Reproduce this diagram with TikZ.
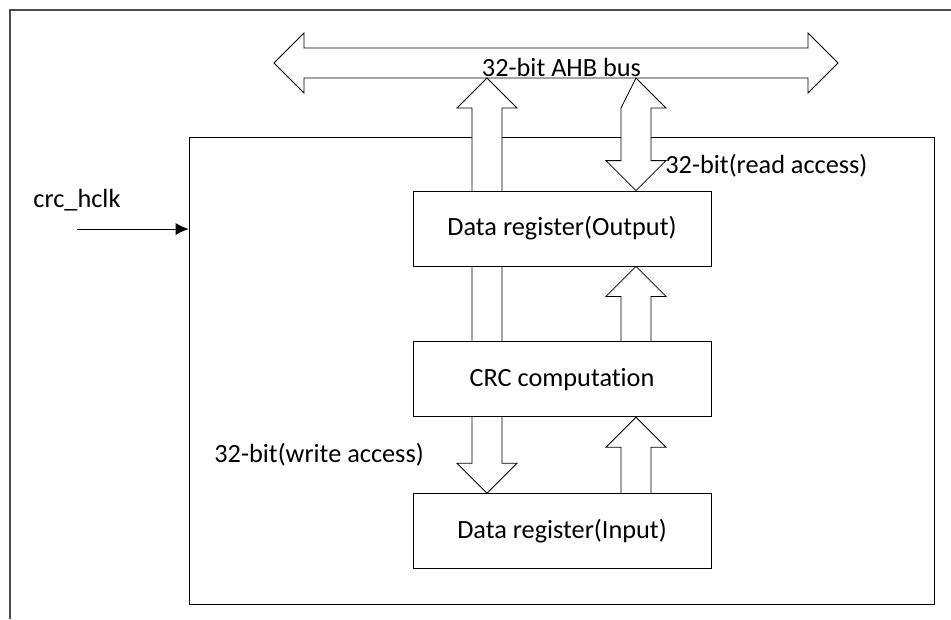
\documentclass[tikz,border=0pt]{standalone}
\usepackage{fontspec}
\setmainfont[Ligatures={NoCommon}]{Carlito}
\usetikzlibrary{positioning,calc,arrows.meta}

\begin{document}
\begin{tikzpicture}[x=1pt,y=-1pt,line width=0.8pt,
    every node/.style={font=\fontsize{26.3}{30}\selectfont},
    caja/.style={draw,fill=white,minimum width=298pt,minimum height=75pt,inner sep=0pt},
    hueca/.style={draw,fill=white,line join=miter}]
        \useasboundingbox (0,0) rectangle (951,619);
        %Marco exterior (cortado a la derecha y abajo)
        \draw[black!70,line width=1.2pt] (10,619) -- (10,10) -- (951,10);

        %Bloque principal
        \node[draw,minimum width=745pt,minimum height=467pt,inner sep=0pt] (interno) at (561.5,370.5) {};

        %Bus AHB: puntas y borde inferior del cuerpo
        \coordinate (busI) at (274,63);
        \coordinate (busD) at (838,63);
        \coordinate (bus) at (556,78);
        \draw[hueca] (busI) -- ++(30,-30) -- ++(0,15) -- ($(busD)+(-30,-15)$) -- ++(0,-15)
            -- (busD) -- ++(-30,30) -- ++(0,-15) -- ($(busI)+(30,15)$) -- ++(0,15) -- cycle;

        %Registros y bloque de calculo
        \coordinate (colA) at (487,0);
        \coordinate (colB) at (636,0);
        \node[caja] (salida) at (562,228.5) {};
        \node[caja,below=75pt of salida] (crc) {};
        \node[caja,below=76pt of crc] (entrada) {};

        %Flechas anchas
        \draw[hueca] ($(crc.north -| colA)+(-15,0)$) -- ($(bus -| colA)+(-15,30)$) -- ++(-15,0)
            -- (bus -| colA) -- ++(30,30) -- ++(-15,0) -- ($(crc.north -| colA)+(15,0)$);

        \draw[hueca] (bus -| colB) -- ++(30,30) -- ++(-15,0) -- ($(salida.north -| colB)+(15,-30)$)
            -- ++(15,0) -- (salida.north -| colB) -- ++(-30,-30) -- ++(15,0)
            -- ($(bus -| colB)+(-15,30)$) -- cycle;

        \draw[hueca] ($(crc.north -| colB)+(15,0)$) -- ($(salida.south -| colB)+(15,30)$) -- ++(15,0)
            -- (salida.south -| colB) -- ++(-30,30) -- ++(15,0) -- ($(crc.north -| colB)+(-15,0)$);

        \draw[hueca] ($(crc.south -| colA)+(-15,0)$) -- ($(entrada.north -| colA)+(-15,-30)$) -- ++(-15,0)
            -- (entrada.north -| colA) -- ++(30,-30) -- ++(-15,0) -- ($(crc.south -| colA)+(15,0)$);

        \draw[hueca] ($(entrada.north -| colB)+(15,0)$) -- ($(crc.south -| colB)+(15,30)$) -- ++(15,0)
            -- (crc.south -| colB) -- ++(-30,30) -- ++(15,0) -- ($(entrada.north -| colB)+(-15,0)$);

        %Cajas encima de las flechas
        \node[caja] at (salida) {Data register(Output)};
        \node[caja] at (crc) {CRC computation};
        \node[caja] at (entrada) {Data register(Input)};

        %Textos
        \node[anchor=base,inner sep=0pt] (buslbl) at (561.5,76.5) {32-bit AHB bus};
        \node[anchor=west,inner sep=0pt] (lectura) at (665,166) {32-bit(read access)};
        \node[anchor=west,inner sep=0pt] (escritura) at (214,455) {32-bit(write access)};

        %Reloj
        \node[anchor=base west,inner sep=0pt] (clk) at (33,207) {crc\_hclk};
        \coordinate (clkin) at (77,229);
        \draw[-{Latex[length=13pt,width=12pt]}] (clkin) -- (clkin -| interno.west);
    \end{tikzpicture}
\end{document}
